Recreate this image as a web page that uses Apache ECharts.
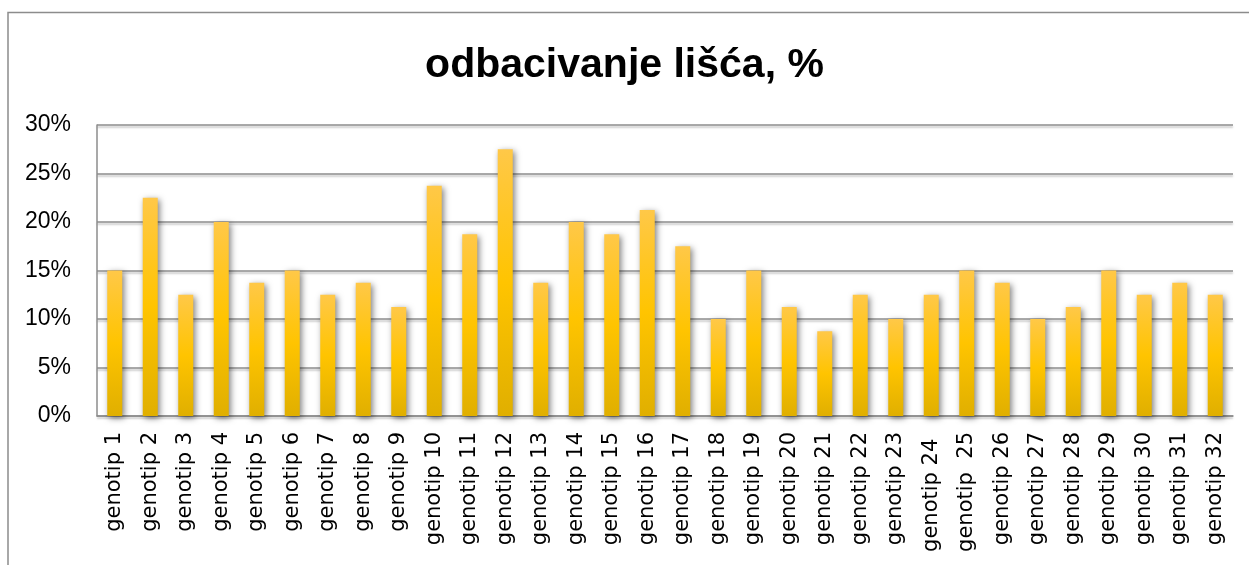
<!DOCTYPE html>
<html>
<head>
<meta charset="utf-8">
<script src="https://cdn.jsdelivr.net/npm/echarts@6/dist/echarts.min.js"></script>
<style>
  html, body { margin: 0; padding: 0; background: #fff; }
  #chart { width: 1249px; height: 565px; }
</style>
</head>
<body>
<div id="chart"></div>
<script>
  const titleText = 'odbacivanje lišća, %';

  const genotypes = [
    'genotip 1', 'genotip 2', 'genotip 3', 'genotip 4', 'genotip 5', 'genotip 6',
    'genotip 7', 'genotip 8', 'genotip 9', 'genotip 10', 'genotip 11', 'genotip 12',
    'genotip 13', 'genotip 14', 'genotip 15', 'genotip 16', 'genotip 17', 'genotip 18',
    'genotip 19', 'genotip 20', 'genotip 21', 'genotip 22', 'genotip 23', 'genotip 24 ',
    'genotip  25', 'genotip 26', 'genotip 27', 'genotip 28', 'genotip 29', 'genotip 30',
    'genotip 31', 'genotip 32'
  ];

  // odbacivanje lišća u %
  const leafDrop = [
    15, 22.5, 12.5, 20, 13.75, 15, 12.5, 13.75, 11.25, 23.75, 18.75, 27.5,
    13.75, 20, 18.75, 21.25, 17.5, 10, 15, 11.25, 8.75, 12.5, 10, 12.5,
    15, 13.75, 10, 11.25, 15, 12.5, 13.75, 12.5
  ];

  const yMin = 0;
  const yMax = 30;
  const yStep = 5;

  const myChart = echarts.init(document.getElementById('chart'));

  const option = {
    animation: false,
    backgroundColor: '#fff',
    title: {
      text: titleText,
      left: 'center',
      top: 40,
      textStyle: {
        fontFamily: 'Liberation Sans',
        fontSize: 41,
        fontWeight: 'bold',
        color: '#000'
      }
    },
    graphic: [
      {
        type: 'rect',
        shape: { x: 8, y: 12.5, width: 1300, height: 700 },
        style: { fill: 'none', stroke: '#8c8c8c', lineWidth: 1.5 },
        silent: true
      }
    ],
    grid: {
      left: 97,
      right: 16,
      top: 125,
      height: 291
    },
    xAxis: {
      type: 'category',
      data: genotypes,
      axisLine: { lineStyle: { color: '#8c8c8c', width: 1.5 } },
      axisTick: { show: false },
      axisLabel: {
        rotate: 90,
        margin: 16,
        interval: 0,
        fontFamily: 'DejaVu Sans',
        fontSize: 21,
        color: '#000'
      }
    },
    yAxis: {
      type: 'value',
      min: yMin,
      max: yMax,
      interval: yStep,
      axisLine: { show: true, lineStyle: { color: '#8c8c8c', width: 1.5 } },
      axisTick: { show: false },
      axisLabel: {
        formatter: '{value}%',
        margin: 26,
        fontFamily: 'Liberation Sans',
        fontSize: 23,
        color: '#000'
      },
      splitLine: {
        lineStyle: {
          color: '#8c8c8c',
          width: 1.5,
          shadowColor: 'rgba(0,0,0,0.25)',
          shadowBlur: 2,
          shadowOffsetY: 2
        }
      }
    },
    series: [
      {
        name: titleText,
        type: 'bar',
        data: leafDrop,
        barWidth: 15,
        itemStyle: {
          color: new echarts.graphic.LinearGradient(0, 0, 0, 1, [
            { offset: 0, color: '#ffc848' },
            { offset: 0.5, color: '#ffc400' },
            { offset: 1, color: '#e0af00' }
          ]),
          shadowColor: 'rgba(0,0,0,0.5)',
          shadowBlur: 6,
          shadowOffsetX: 2,
          shadowOffsetY: 2
        }
      }
    ]
  };

  myChart.setOption(option);
</script>
</body>
</html>
